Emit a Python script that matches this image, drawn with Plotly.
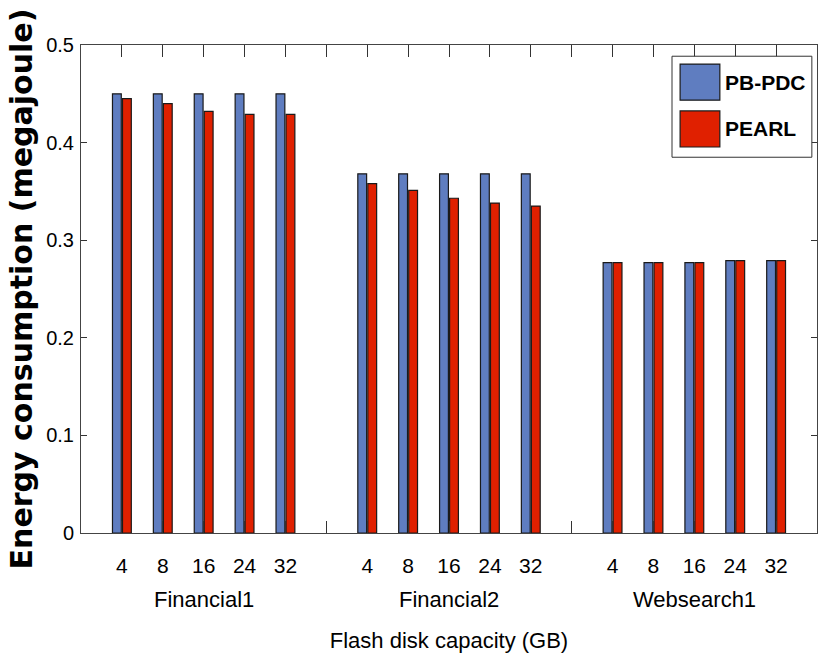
import plotly.graph_objects as go

# ---- data ----
workloads = ["Financial1", "Financial2", "Websearch1"]
capacities = ["4", "8", "16", "24", "32"]
pb_pdc = [0.450, 0.450, 0.450, 0.450, 0.450,
          0.368, 0.368, 0.368, 0.368, 0.368,
          0.277, 0.277, 0.277, 0.279, 0.279]
pearl = [0.445, 0.440, 0.432, 0.429, 0.429,
         0.358, 0.351, 0.343, 0.338, 0.335,
         0.277, 0.277, 0.277, 0.279, 0.279]
y_ticks = [0, 0.1, 0.2, 0.3, 0.4, 0.5]
y_ticktext = ["0", "0.1", "0.2", "0.3", "0.4", "0.5"]

# positions: 5 bars per group, one blank slot between groups
n = len(capacities)
xpos = []
for g in range(len(workloads)):
    for i in range(n):
        xpos.append(g * (n + 1) + i + 1)
all_ticks = list(range(1, len(workloads) * (n + 1)))
ticktext = []
for t in all_ticks:
    r = (t - 1) % (n + 1)
    ticktext.append(capacities[r] if r < n else "")

BLUE = "#5f7dc0"
RED = "#e02000"
FONT = "Liberation Sans, Arial, sans-serif"

fig = go.Figure()
fig.add_trace(go.Bar(x=xpos, y=pb_pdc, name="PB-PDC", marker=dict(color=BLUE, line=dict(color="#1a1a1a", width=1.2)),
                     showlegend=False))
fig.add_trace(go.Bar(x=xpos, y=pearl, name="PEARL", marker=dict(color=RED, line=dict(color="#1a1a1a", width=1.2)),
                     showlegend=False))

fig.update_layout(
    width=827, height=663,
    margin=dict(l=81, r=10, t=45, b=130),
    paper_bgcolor="white", plot_bgcolor="white",
    barmode="group", bargap=0.51, bargroupgap=0.12,
    font=dict(family=FONT, color="black"),
)
fig.update_xaxes(
    range=[0, len(workloads) * (n + 1)],
    tickmode="array", tickvals=all_ticks, ticktext=ticktext,
    ticks="inside", ticklen=12, tickcolor="#333", tickwidth=1,
    showline=True, linecolor="#444", linewidth=1, mirror="ticks",
    showgrid=False, zeroline=False,
    tickfont=dict(family=FONT, size=21, color="black"),
    ticklabelstandoff=14,
    title=dict(text="Flash disk capacity (GB)", font=dict(family=FONT, size=22, color="black"), standoff=56),
    automargin=False,
)
fig.update_yaxes(
    range=[0, 0.5],
    tickmode="array", tickvals=y_ticks, ticktext=y_ticktext,
    ticks="inside", ticklen=6, tickcolor="#333", tickwidth=1,
    showline=True, linecolor="#444", linewidth=1, mirror="ticks",
    showgrid=False, zeroline=False,
    tickfont=dict(family=FONT, size=20, color="black"),
    ticklabelstandoff=2,
    title=dict(text="Energy consumption (megajoule)",
               font=dict(family="DejaVu Sans, Liberation Sans, Arial", size=30, color="black", weight="bold"),
               standoff=4),
    automargin=False,
)

# group labels
for g, w in enumerate(workloads):
    xs = xpos[g * n:(g + 1) * n]
    fig.add_annotation(x=sum(xs) / len(xs), y=-0.137, xref="x", yref="paper", text=w, showarrow=False,
                       yanchor="middle", xanchor="center", font=dict(family=FONT, size=22, color="black"))

# legend box (drawn manually to get large swatches)
fig.add_shape(type="rect", xref="paper", yref="paper", x0=0.803, x1=0.993, y0=0.770, y1=0.977,
              line=dict(color="#333", width=1), fillcolor="white")
for (label, col, yc) in [("PB-PDC", BLUE, 0.924), ("PEARL", RED, 0.828)]:
    fig.add_shape(type="rect", xref="paper", yref="paper", x0=0.814, x1=0.868, y0=yc - 0.037, y1=yc + 0.037,
                  line=dict(color="#1a1a1a", width=1.2), fillcolor=col)
    fig.add_annotation(x=0.872, y=yc, xref="paper", yref="paper", text="<b>%s</b>" % label, showarrow=False,
                       xanchor="left", yanchor="middle", font=dict(family=FONT, size=21, color="black"))

fig.write_html("out.html")
